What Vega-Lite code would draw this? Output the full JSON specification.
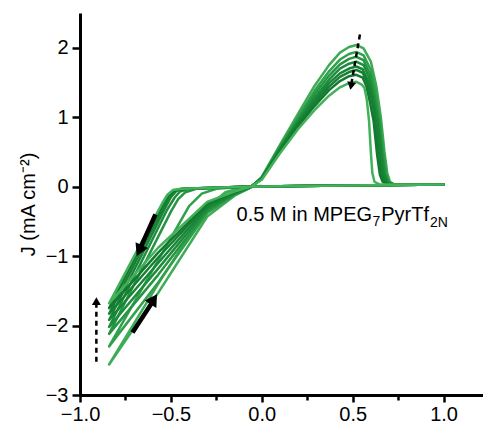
{
  "$schema": "https://vega.github.io/schema/vega-lite/v6.json",
  "width": 403,
  "height": 382,
  "autosize": {"type": "none"},
  "padding": {"left": 80, "top": 13, "right": 0, "bottom": 31},
  "background": "white",
  "config": {
    "font": "Liberation Sans",
    "view": {"stroke": null},
    "axis": {
      "domainColor": "black",
      "domainWidth": 3,
      "tickColor": "black",
      "tickWidth": 2.5,
      "labelColor": "black",
      "labelFont": "Liberation Sans",
      "labelFontSize": 20,
      "titleFont": "Liberation Sans",
      "titleFontSize": 20,
      "titleFontWeight": "normal",
      "titleColor": "black",
      "grid": false
    }
  },
  "datasets": {
    "cv": [
      {"cycle": 1, "i": 0, "E": 0.0, "J": 0.01},
      {"cycle": 1, "i": 1, "E": -0.12, "J": -0.02},
      {"cycle": 1, "i": 2, "E": -0.2, "J": -0.08},
      {"cycle": 1, "i": 3, "E": -0.3, "J": -0.3},
      {"cycle": 1, "i": 4, "E": -0.57, "J": -1.4},
      {"cycle": 1, "i": 5, "E": -0.84, "J": -2.56},
      {"cycle": 1, "i": 6, "E": -0.57, "J": -1.53},
      {"cycle": 1, "i": 7, "E": -0.3, "J": -0.43},
      {"cycle": 1, "i": 8, "E": -0.15, "J": -0.13},
      {"cycle": 1, "i": 9, "E": -0.06, "J": -0.01},
      {"cycle": 1, "i": 10, "E": 0.0, "J": 0.14},
      {"cycle": 1, "i": 11, "E": 0.1, "J": 0.6},
      {"cycle": 1, "i": 12, "E": 0.2, "J": 1.05},
      {"cycle": 1, "i": 13, "E": 0.29, "J": 1.45},
      {"cycle": 1, "i": 14, "E": 0.37, "J": 1.75},
      {"cycle": 1, "i": 15, "E": 0.43, "J": 1.93},
      {"cycle": 1, "i": 16, "E": 0.48, "J": 2.01},
      {"cycle": 1, "i": 17, "E": 0.52, "J": 2.04},
      {"cycle": 1, "i": 18, "E": 0.56, "J": 1.99},
      {"cycle": 1, "i": 19, "E": 0.6, "J": 1.8},
      {"cycle": 1, "i": 20, "E": 0.63, "J": 1.45},
      {"cycle": 1, "i": 21, "E": 0.655, "J": 1.0},
      {"cycle": 1, "i": 22, "E": 0.675, "J": 0.5},
      {"cycle": 1, "i": 23, "E": 0.69, "J": 0.2},
      {"cycle": 1, "i": 24, "E": 0.705, "J": 0.07},
      {"cycle": 1, "i": 25, "E": 0.73, "J": 0.03},
      {"cycle": 1, "i": 26, "E": 1.0, "J": 0.03},

      {"cycle": 2, "i": 0, "E": 1.0, "J": 0.03},
      {"cycle": 2, "i": 1, "E": 0.6, "J": 0.02},
      {"cycle": 2, "i": 2, "E": 0.2, "J": 0.01},
      {"cycle": 2, "i": 3, "E": -0.1, "J": 0.0},
      {"cycle": 2, "i": 4, "E": -0.25, "J": -0.03},
      {"cycle": 2, "i": 5, "E": -0.33, "J": -0.1},
      {"cycle": 2, "i": 6, "E": -0.4, "J": -0.28},
      {"cycle": 2, "i": 7, "E": -0.84, "J": -2.3},
      {"cycle": 2, "i": 8, "E": -0.57, "J": -1.38},
      {"cycle": 2, "i": 9, "E": -0.3, "J": -0.38},
      {"cycle": 2, "i": 10, "E": -0.15, "J": -0.12},
      {"cycle": 2, "i": 11, "E": -0.06, "J": -0.01},
      {"cycle": 2, "i": 12, "E": 0.0, "J": 0.13},
      {"cycle": 2, "i": 13, "E": 0.1, "J": 0.58},
      {"cycle": 2, "i": 14, "E": 0.2, "J": 1.0},
      {"cycle": 2, "i": 15, "E": 0.29, "J": 1.38},
      {"cycle": 2, "i": 16, "E": 0.37, "J": 1.66},
      {"cycle": 2, "i": 17, "E": 0.43, "J": 1.83},
      {"cycle": 2, "i": 18, "E": 0.48, "J": 1.91},
      {"cycle": 2, "i": 19, "E": 0.52, "J": 1.94},
      {"cycle": 2, "i": 20, "E": 0.56, "J": 1.89},
      {"cycle": 2, "i": 21, "E": 0.6, "J": 1.68},
      {"cycle": 2, "i": 22, "E": 0.625, "J": 1.38},
      {"cycle": 2, "i": 23, "E": 0.65, "J": 0.95},
      {"cycle": 2, "i": 24, "E": 0.67, "J": 0.48},
      {"cycle": 2, "i": 25, "E": 0.685, "J": 0.18},
      {"cycle": 2, "i": 26, "E": 0.7, "J": 0.07},
      {"cycle": 2, "i": 27, "E": 0.73, "J": 0.03},
      {"cycle": 2, "i": 28, "E": 1.0, "J": 0.03},

      {"cycle": 3, "i": 0, "E": 1.0, "J": 0.03},
      {"cycle": 3, "i": 1, "E": 0.6, "J": 0.02},
      {"cycle": 3, "i": 2, "E": 0.2, "J": 0.01},
      {"cycle": 3, "i": 3, "E": -0.1, "J": 0.0},
      {"cycle": 3, "i": 4, "E": -0.36, "J": -0.03},
      {"cycle": 3, "i": 5, "E": -0.42, "J": -0.08},
      {"cycle": 3, "i": 6, "E": -0.46, "J": -0.18},
      {"cycle": 3, "i": 7, "E": -0.5, "J": -0.36},
      {"cycle": 3, "i": 8, "E": -0.84, "J": -2.12},
      {"cycle": 3, "i": 9, "E": -0.57, "J": -1.27},
      {"cycle": 3, "i": 10, "E": -0.3, "J": -0.35},
      {"cycle": 3, "i": 11, "E": -0.15, "J": -0.11},
      {"cycle": 3, "i": 12, "E": -0.06, "J": -0.01},
      {"cycle": 3, "i": 13, "E": 0.0, "J": 0.13},
      {"cycle": 3, "i": 14, "E": 0.1, "J": 0.56},
      {"cycle": 3, "i": 15, "E": 0.2, "J": 0.97},
      {"cycle": 3, "i": 16, "E": 0.29, "J": 1.33},
      {"cycle": 3, "i": 17, "E": 0.37, "J": 1.6},
      {"cycle": 3, "i": 18, "E": 0.43, "J": 1.76},
      {"cycle": 3, "i": 19, "E": 0.48, "J": 1.84},
      {"cycle": 3, "i": 20, "E": 0.52, "J": 1.87},
      {"cycle": 3, "i": 21, "E": 0.56, "J": 1.82},
      {"cycle": 3, "i": 22, "E": 0.595, "J": 1.62},
      {"cycle": 3, "i": 23, "E": 0.62, "J": 1.33},
      {"cycle": 3, "i": 24, "E": 0.645, "J": 0.95},
      {"cycle": 3, "i": 25, "E": 0.665, "J": 0.47},
      {"cycle": 3, "i": 26, "E": 0.68, "J": 0.18},
      {"cycle": 3, "i": 27, "E": 0.695, "J": 0.07},
      {"cycle": 3, "i": 28, "E": 0.72, "J": 0.03},
      {"cycle": 3, "i": 29, "E": 1.0, "J": 0.03},

      {"cycle": 4, "i": 0, "E": 1.0, "J": 0.03},
      {"cycle": 4, "i": 1, "E": 0.6, "J": 0.02},
      {"cycle": 4, "i": 2, "E": 0.2, "J": 0.01},
      {"cycle": 4, "i": 3, "E": -0.1, "J": 0.0},
      {"cycle": 4, "i": 4, "E": -0.4, "J": -0.03},
      {"cycle": 4, "i": 5, "E": -0.45, "J": -0.07},
      {"cycle": 4, "i": 6, "E": -0.48, "J": -0.16},
      {"cycle": 4, "i": 7, "E": -0.52, "J": -0.33},
      {"cycle": 4, "i": 8, "E": -0.84, "J": -2.02},
      {"cycle": 4, "i": 9, "E": -0.57, "J": -1.18},
      {"cycle": 4, "i": 10, "E": -0.3, "J": -0.32},
      {"cycle": 4, "i": 11, "E": -0.15, "J": -0.1},
      {"cycle": 4, "i": 12, "E": -0.06, "J": 0.0},
      {"cycle": 4, "i": 13, "E": 0.0, "J": 0.12},
      {"cycle": 4, "i": 14, "E": 0.1, "J": 0.55},
      {"cycle": 4, "i": 15, "E": 0.2, "J": 0.94},
      {"cycle": 4, "i": 16, "E": 0.29, "J": 1.28},
      {"cycle": 4, "i": 17, "E": 0.37, "J": 1.54},
      {"cycle": 4, "i": 18, "E": 0.43, "J": 1.7},
      {"cycle": 4, "i": 19, "E": 0.48, "J": 1.77},
      {"cycle": 4, "i": 20, "E": 0.52, "J": 1.8},
      {"cycle": 4, "i": 21, "E": 0.56, "J": 1.75},
      {"cycle": 4, "i": 22, "E": 0.59, "J": 1.57},
      {"cycle": 4, "i": 23, "E": 0.615, "J": 1.3},
      {"cycle": 4, "i": 24, "E": 0.64, "J": 0.95},
      {"cycle": 4, "i": 25, "E": 0.66, "J": 0.46},
      {"cycle": 4, "i": 26, "E": 0.675, "J": 0.18},
      {"cycle": 4, "i": 27, "E": 0.69, "J": 0.07},
      {"cycle": 4, "i": 28, "E": 0.72, "J": 0.03},
      {"cycle": 4, "i": 29, "E": 1.0, "J": 0.03},

      {"cycle": 5, "i": 0, "E": 1.0, "J": 0.03},
      {"cycle": 5, "i": 1, "E": 0.6, "J": 0.02},
      {"cycle": 5, "i": 2, "E": 0.2, "J": 0.01},
      {"cycle": 5, "i": 3, "E": -0.1, "J": 0.0},
      {"cycle": 5, "i": 4, "E": -0.42, "J": -0.03},
      {"cycle": 5, "i": 5, "E": -0.47, "J": -0.06},
      {"cycle": 5, "i": 6, "E": -0.5, "J": -0.15},
      {"cycle": 5, "i": 7, "E": -0.53, "J": -0.3},
      {"cycle": 5, "i": 8, "E": -0.84, "J": -1.92},
      {"cycle": 5, "i": 9, "E": -0.57, "J": -1.1},
      {"cycle": 5, "i": 10, "E": -0.3, "J": -0.29},
      {"cycle": 5, "i": 11, "E": -0.15, "J": -0.09},
      {"cycle": 5, "i": 12, "E": -0.06, "J": 0.0},
      {"cycle": 5, "i": 13, "E": 0.0, "J": 0.12},
      {"cycle": 5, "i": 14, "E": 0.1, "J": 0.53},
      {"cycle": 5, "i": 15, "E": 0.2, "J": 0.92},
      {"cycle": 5, "i": 16, "E": 0.29, "J": 1.24},
      {"cycle": 5, "i": 17, "E": 0.37, "J": 1.49},
      {"cycle": 5, "i": 18, "E": 0.43, "J": 1.63},
      {"cycle": 5, "i": 19, "E": 0.48, "J": 1.7},
      {"cycle": 5, "i": 20, "E": 0.52, "J": 1.73},
      {"cycle": 5, "i": 21, "E": 0.555, "J": 1.69},
      {"cycle": 5, "i": 22, "E": 0.585, "J": 1.52},
      {"cycle": 5, "i": 23, "E": 0.61, "J": 1.27},
      {"cycle": 5, "i": 24, "E": 0.635, "J": 0.95},
      {"cycle": 5, "i": 25, "E": 0.655, "J": 0.45},
      {"cycle": 5, "i": 26, "E": 0.67, "J": 0.17},
      {"cycle": 5, "i": 27, "E": 0.685, "J": 0.07},
      {"cycle": 5, "i": 28, "E": 0.71, "J": 0.03},
      {"cycle": 5, "i": 29, "E": 1.0, "J": 0.03},

      {"cycle": 6, "i": 0, "E": 1.0, "J": 0.03},
      {"cycle": 6, "i": 1, "E": 0.6, "J": 0.02},
      {"cycle": 6, "i": 2, "E": 0.2, "J": 0.01},
      {"cycle": 6, "i": 3, "E": -0.1, "J": 0.0},
      {"cycle": 6, "i": 4, "E": -0.43, "J": -0.03},
      {"cycle": 6, "i": 5, "E": -0.48, "J": -0.06},
      {"cycle": 6, "i": 6, "E": -0.51, "J": -0.14},
      {"cycle": 6, "i": 7, "E": -0.54, "J": -0.29},
      {"cycle": 6, "i": 8, "E": -0.84, "J": -1.83},
      {"cycle": 6, "i": 9, "E": -0.57, "J": -1.02},
      {"cycle": 6, "i": 10, "E": -0.3, "J": -0.26},
      {"cycle": 6, "i": 11, "E": -0.15, "J": -0.08},
      {"cycle": 6, "i": 12, "E": -0.06, "J": 0.0},
      {"cycle": 6, "i": 13, "E": 0.0, "J": 0.11},
      {"cycle": 6, "i": 14, "E": 0.1, "J": 0.52},
      {"cycle": 6, "i": 15, "E": 0.2, "J": 0.9},
      {"cycle": 6, "i": 16, "E": 0.29, "J": 1.2},
      {"cycle": 6, "i": 17, "E": 0.37, "J": 1.44},
      {"cycle": 6, "i": 18, "E": 0.43, "J": 1.58},
      {"cycle": 6, "i": 19, "E": 0.48, "J": 1.65},
      {"cycle": 6, "i": 20, "E": 0.52, "J": 1.68},
      {"cycle": 6, "i": 21, "E": 0.555, "J": 1.64},
      {"cycle": 6, "i": 22, "E": 0.58, "J": 1.5},
      {"cycle": 6, "i": 23, "E": 0.605, "J": 1.25},
      {"cycle": 6, "i": 24, "E": 0.625, "J": 0.95},
      {"cycle": 6, "i": 25, "E": 0.645, "J": 0.45},
      {"cycle": 6, "i": 26, "E": 0.66, "J": 0.17},
      {"cycle": 6, "i": 27, "E": 0.675, "J": 0.07},
      {"cycle": 6, "i": 28, "E": 0.7, "J": 0.03},
      {"cycle": 6, "i": 29, "E": 1.0, "J": 0.03},

      {"cycle": 7, "i": 0, "E": 1.0, "J": 0.03},
      {"cycle": 7, "i": 1, "E": 0.6, "J": 0.02},
      {"cycle": 7, "i": 2, "E": 0.2, "J": 0.01},
      {"cycle": 7, "i": 3, "E": -0.1, "J": 0.0},
      {"cycle": 7, "i": 4, "E": -0.44, "J": -0.03},
      {"cycle": 7, "i": 5, "E": -0.49, "J": -0.06},
      {"cycle": 7, "i": 6, "E": -0.52, "J": -0.14},
      {"cycle": 7, "i": 7, "E": -0.55, "J": -0.28},
      {"cycle": 7, "i": 8, "E": -0.84, "J": -1.75},
      {"cycle": 7, "i": 9, "E": -0.57, "J": -0.95},
      {"cycle": 7, "i": 10, "E": -0.3, "J": -0.24},
      {"cycle": 7, "i": 11, "E": -0.15, "J": -0.08},
      {"cycle": 7, "i": 12, "E": -0.06, "J": 0.0},
      {"cycle": 7, "i": 13, "E": 0.0, "J": 0.11},
      {"cycle": 7, "i": 14, "E": 0.1, "J": 0.5},
      {"cycle": 7, "i": 15, "E": 0.2, "J": 0.87},
      {"cycle": 7, "i": 16, "E": 0.29, "J": 1.16},
      {"cycle": 7, "i": 17, "E": 0.37, "J": 1.39},
      {"cycle": 7, "i": 18, "E": 0.43, "J": 1.52},
      {"cycle": 7, "i": 19, "E": 0.48, "J": 1.59},
      {"cycle": 7, "i": 20, "E": 0.52, "J": 1.61},
      {"cycle": 7, "i": 21, "E": 0.555, "J": 1.57},
      {"cycle": 7, "i": 22, "E": 0.575, "J": 1.45},
      {"cycle": 7, "i": 23, "E": 0.595, "J": 1.22},
      {"cycle": 7, "i": 24, "E": 0.615, "J": 0.95},
      {"cycle": 7, "i": 25, "E": 0.635, "J": 0.45},
      {"cycle": 7, "i": 26, "E": 0.65, "J": 0.17},
      {"cycle": 7, "i": 27, "E": 0.665, "J": 0.07},
      {"cycle": 7, "i": 28, "E": 0.69, "J": 0.03},
      {"cycle": 7, "i": 29, "E": 1.0, "J": 0.03},

      {"cycle": 8, "i": 0, "E": 1.0, "J": 0.03},
      {"cycle": 8, "i": 1, "E": 0.6, "J": 0.02},
      {"cycle": 8, "i": 2, "E": 0.2, "J": 0.01},
      {"cycle": 8, "i": 3, "E": -0.1, "J": 0.0},
      {"cycle": 8, "i": 4, "E": -0.44, "J": -0.03},
      {"cycle": 8, "i": 5, "E": -0.49, "J": -0.05},
      {"cycle": 8, "i": 6, "E": -0.52, "J": -0.12},
      {"cycle": 8, "i": 7, "E": -0.55, "J": -0.25},
      {"cycle": 8, "i": 8, "E": -0.84, "J": -1.68},
      {"cycle": 8, "i": 9, "E": -0.57, "J": -0.88},
      {"cycle": 8, "i": 10, "E": -0.3, "J": -0.22},
      {"cycle": 8, "i": 11, "E": -0.15, "J": -0.07},
      {"cycle": 8, "i": 12, "E": -0.06, "J": 0.0},
      {"cycle": 8, "i": 13, "E": 0.0, "J": 0.1},
      {"cycle": 8, "i": 14, "E": 0.1, "J": 0.48},
      {"cycle": 8, "i": 15, "E": 0.2, "J": 0.83},
      {"cycle": 8, "i": 16, "E": 0.29, "J": 1.1},
      {"cycle": 8, "i": 17, "E": 0.37, "J": 1.31},
      {"cycle": 8, "i": 18, "E": 0.43, "J": 1.43},
      {"cycle": 8, "i": 19, "E": 0.48, "J": 1.49},
      {"cycle": 8, "i": 20, "E": 0.52, "J": 1.51},
      {"cycle": 8, "i": 21, "E": 0.55, "J": 1.47},
      {"cycle": 8, "i": 22, "E": 0.565, "J": 1.42},
      {"cycle": 8, "i": 23, "E": 0.578, "J": 1.25},
      {"cycle": 8, "i": 24, "E": 0.59, "J": 0.95},
      {"cycle": 8, "i": 25, "E": 0.6, "J": 0.5},
      {"cycle": 8, "i": 26, "E": 0.608, "J": 0.2},
      {"cycle": 8, "i": 27, "E": 0.62, "J": 0.07},
      {"cycle": 8, "i": 28, "E": 0.65, "J": 0.03},
      {"cycle": 8, "i": 29, "E": 1.0, "J": 0.03}
    ],
    "solidArrows": [
      {"E": -0.585, "J": -0.40, "E2": -0.664, "J2": -0.86, "tipE": -0.674, "tipJ": -0.92, "angle": 205},
      {"E": -0.711, "J": -2.10, "E2": -0.606, "J2": -1.68, "tipE": -0.594, "tipJ": -1.62, "angle": 33}
    ],
    "dashedArrows": [
      {"E": -0.91, "J": -2.52, "E2": -0.91, "J2": -1.70, "tipE": -0.91, "tipJ": -1.65, "angle": 0},
      {"E": 0.54, "J": 2.19, "E2": 0.494, "J2": 1.50, "tipE": 0.491, "tipJ": 1.45, "angle": 190}
    ],
    "label": [
      {"text": "0.5 M in MPEG", "E": -0.139, "J": -0.497},
      {"text": "PyrTf", "E": 0.657, "J": -0.497}
    ],
    "subscript": [
      {"text": "7", "E": 0.609, "J": -0.569},
      {"text": "2N", "E": 0.925, "J": -0.578}
    ]
  },
  "layer": [
    {
      "data": {"name": "cv"},
      "mark": {"type": "line", "strokeWidth": 2.5, "strokeJoin": "round", "strokeCap": "round"},
      "encoding": {
        "x": {
          "field": "E",
          "type": "quantitative",
          "scale": {"domain": [-1.0, 1.217], "nice": false, "zero": false},
          "axis": {
            "title": null,
            "values": [-1.0, -0.75, -0.5, -0.25, 0.0, 0.25, 0.5, 0.75, 1.0],
            "format": ".1f",
            "labelExpr": "abs(datum.value * 2 - round(datum.value * 2)) < 0.01 ? datum.label : ''",
            "tickSize": {"condition": {"test": "abs(datum.value * 2 - round(datum.value * 2)) < 0.01", "value": 7}, "value": 5},
            "labelPadding": 2,
            "labelFlush": false,
            "labelOverlap": false
          }
        },
        "y": {
          "field": "J",
          "type": "quantitative",
          "scale": {"domain": [-3, 2.5], "nice": false, "zero": false},
          "axis": {
            "title": "J (mA cm\u207b\u00b2)",
            "titlePadding": 7,
            "values": [-3, -2.5, -2, -1.5, -1, -0.5, 0, 0.5, 1, 1.5, 2],
            "format": "d",
            "labelExpr": "abs(datum.value - round(datum.value)) < 0.01 ? datum.label : ''",
            "tickSize": {"condition": {"test": "abs(datum.value - round(datum.value)) < 0.01", "value": 8}, "value": 5},
            "labelPadding": 4,
            "labelFlush": false,
            "labelOverlap": false
          }
        },
        "color": {
          "field": "cycle",
          "type": "nominal",
          "legend": null,
          "scale": {"range": ["#3eab55", "#31a04b", "#259543", "#1d8c3c", "#188536", "#157f32", "#12792e", "#43b05a"]}
        },
        "detail": {"field": "cycle"},
        "order": {"field": "i", "type": "quantitative"}
      }
    },
    {
      "mark": {"type": "rule", "color": "black", "strokeWidth": 3},
      "encoding": {"y": {"datum": 2.5}}
    },
    {
      "data": {"name": "solidArrows"},
      "mark": {"type": "rule", "color": "black", "strokeWidth": 4.5},
      "encoding": {
        "x": {"field": "E", "type": "quantitative"},
        "y": {"field": "J", "type": "quantitative"},
        "x2": {"field": "E2"},
        "y2": {"field": "J2"}
      }
    },
    {
      "data": {"name": "dashedArrows"},
      "mark": {"type": "rule", "color": "black", "strokeWidth": 2.5, "strokeDash": [5, 4]},
      "encoding": {
        "x": {"field": "E", "type": "quantitative"},
        "y": {"field": "J", "type": "quantitative"},
        "x2": {"field": "E2"},
        "y2": {"field": "J2"}
      }
    },
    {
      "data": {"name": "solidArrows"},
      "mark": {"type": "point", "shape": "triangle-up", "filled": true, "color": "black", "opacity": 1, "size": 190},
      "encoding": {
        "x": {"field": "tipE", "type": "quantitative"},
        "y": {"field": "tipJ", "type": "quantitative"},
        "angle": {"field": "angle", "type": "quantitative", "scale": null}
      }
    },
    {
      "data": {"name": "dashedArrows"},
      "mark": {"type": "point", "shape": "triangle-up", "filled": true, "color": "black", "opacity": 1, "size": 80},
      "encoding": {
        "x": {"field": "tipE", "type": "quantitative"},
        "y": {"field": "tipJ", "type": "quantitative"},
        "angle": {"field": "angle", "type": "quantitative", "scale": null}
      }
    },
    {
      "data": {"name": "label"},
      "mark": {"type": "text", "align": "left", "baseline": "alphabetic", "fontSize": 20, "font": "Liberation Sans", "color": "black"},
      "encoding": {
        "x": {"field": "E", "type": "quantitative"},
        "y": {"field": "J", "type": "quantitative"},
        "text": {"field": "text"}
      }
    },
    {
      "data": {"name": "subscript"},
      "mark": {"type": "text", "align": "left", "baseline": "alphabetic", "fontSize": 14, "font": "Liberation Sans", "color": "black"},
      "encoding": {
        "x": {"field": "E", "type": "quantitative"},
        "y": {"field": "J", "type": "quantitative"},
        "text": {"field": "text"}
      }
    }
  ]
}
